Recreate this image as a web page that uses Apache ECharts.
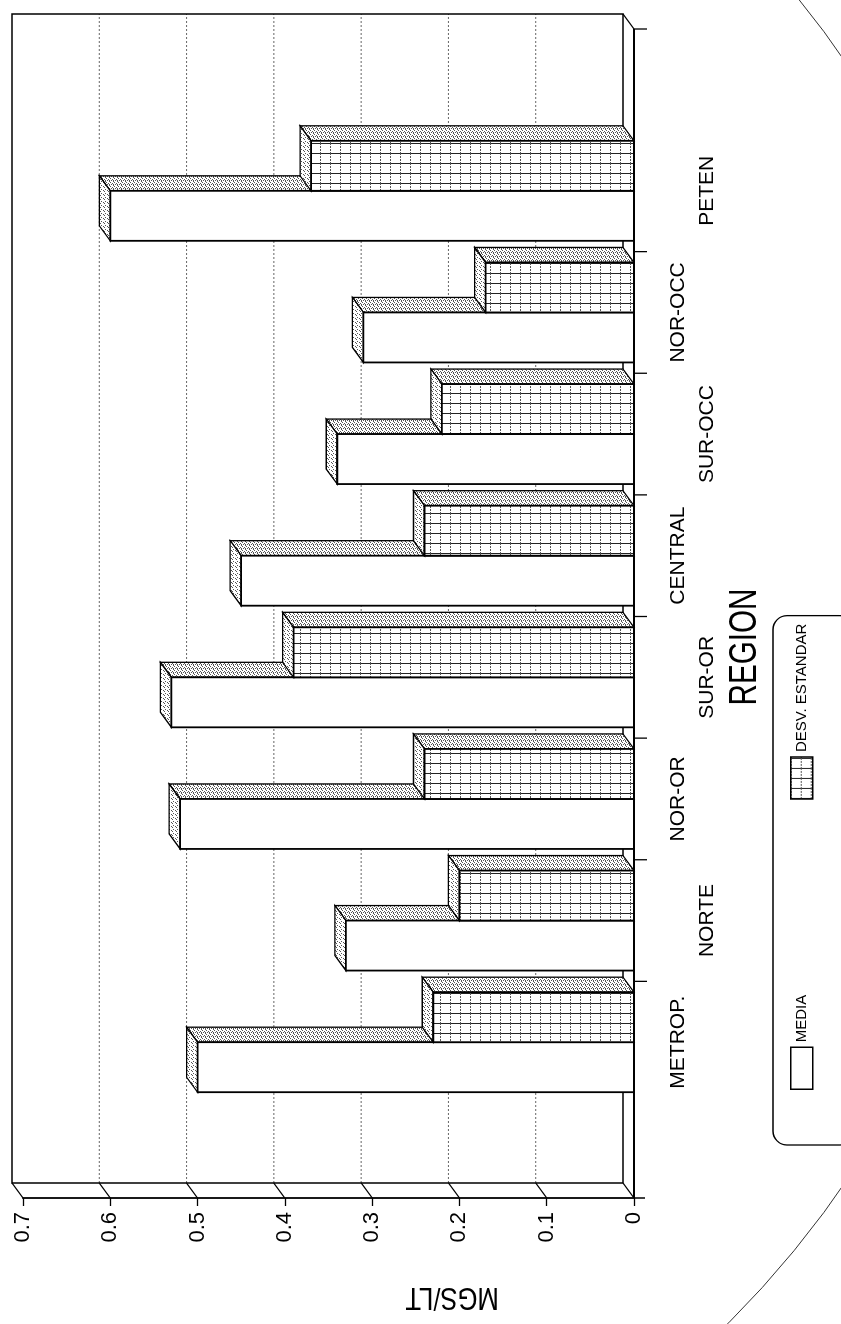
<!DOCTYPE html>
<html><head><meta charset="utf-8">
<script src="https://cdn.jsdelivr.net/npm/echarts@6/dist/echarts.min.js"></script>
<style>
html,body{margin:0;padding:0;background:#fff;overflow:hidden;width:841px;height:1324px;}
#chart{position:absolute;left:0;top:0;width:1324px;height:841px;transform-origin:0 0;transform:translate(0,1324px) rotate(-90deg);}
</style></head><body><div id="chart"></div>
<script>
// ---- data ----
const categories = ['METROP.', 'NORTE', 'NOR-OR', 'SUR-OR', 'CENTRAL', 'SUR-OCC', 'NOR-OCC', 'PETEN'];
const mediaValues = [0.50, 0.33, 0.52, 0.53, 0.45, 0.34, 0.31, 0.60];
const desvValues  = [0.23, 0.20, 0.24, 0.39, 0.24, 0.22, 0.17, 0.37];
const valueTicks = [0, 0.1, 0.2, 0.3, 0.4, 0.5, 0.6, 0.7];
const valueTickLabels = ['0', '0.1', '0.2', '0.3', '0.4', '0.5', '0.6', '0.7'];
const seriesNames = ['MEDIA', 'DESV. ESTANDAR'];
const axisTitleX = 'REGION';
const axisTitleY = 'MGS/LT';

// ---- style / layout ----
const FONT = '"Liberation Sans", Arial, Helvetica, sans-serif';
const DX = 15, DY = -11;          // 3D depth offset
const BW = 50;                    // bar face width
const AXIS_LEFT = 126, AXIS_RIGHT = 1295;

function makeCanvas(w, h, draw) {
  const c = document.createElement('canvas');
  c.width = w; c.height = h;
  draw(c.getContext('2d'));
  return c;
}
const gridCanvas = makeCanvas(10, 10, g => {
  g.fillStyle = '#fff'; g.fillRect(0, 0, 10, 10);
  g.strokeStyle = '#222'; g.lineWidth = 1;
  g.beginPath(); g.moveTo(0.5, 0); g.lineTo(0.5, 10); g.stroke();
  g.strokeStyle = '#555'; g.setLineDash([2, 1]);
  g.beginPath(); g.moveTo(0, 0.5); g.lineTo(10, 0.5); g.stroke();
});
// stipple textures (fixed dot layouts)
function stipple(dots) {
  return makeCanvas(4, 4, g => {
    g.fillStyle = '#fff'; g.fillRect(0, 0, 4, 4);
    g.fillStyle = '#555';
    dots.forEach(([x, y]) => g.fillRect(x, y, 1, 1));
  });
}
const sideCanvas = stipple([[0, 0], [2, 1], [1, 2], [3, 3], [3, 1]]);
const topCanvas = stipple([[0, 0], [2, 1], [1, 3]]);
const gridFill = { image: gridCanvas, repeat: 'repeat' };
const sideFill = { image: sideCanvas, repeat: 'repeat' };
const topFill = { image: topCanvas, repeat: 'repeat' };

const chart = echarts.init(document.getElementById('chart'), null, { renderer: 'canvas', width: 1324, height: 841 });

function renderFrame(params, api) {
  const y = v => api.coord([0, v])[1];
  const y0 = y(0), yTop = y(valueTicks[valueTicks.length - 1]);
  const L = AXIS_LEFT, R = AXIS_RIGHT;
  const band = api.size([1, 0])[0];
  const ch = [];
  const line = (x1, y1, x2, y2, st) => ch.push({ type: 'line', shape: { x1, y1, x2, y2 }, style: Object.assign({ stroke: '#000', lineWidth: 1.3 }, st || {}) });
  valueTicks.forEach(t => {
    if (t > 0 && t < valueTicks[valueTicks.length - 1]) line(L + DX, y(t) + DY, R + DX, y(t) + DY, { stroke: '#666', lineWidth: 1, lineDash: [2, 2] });
  });
  ch.push({ type: 'polyline', shape: { points: [[L + DX, y0 + DY], [L + DX, yTop + DY], [R + DX, yTop + DY], [R + DX, y0 + DY], [L + DX, y0 + DY]] }, style: { fill: null, stroke: '#000', lineWidth: 1.5 } });
  valueTicks.forEach(t => line(L, y(t), L + DX, y(t) + DY, { lineWidth: 1.2 }));
  line(R, y0, R + DX, y0 + DY, { lineWidth: 1.2 });
  line(L, y0, R, y0, { lineWidth: 1.8 });
  line(L, y0, L, y0 + 11, { lineWidth: 1.5 });
  for (let i = 0; i < categories.length - 1; i++) {
    const xb = api.coord([i, 0])[0] + band / 2;
    line(xb, y0, xb, y0 + 13, { lineWidth: 1.3 });
  }
  line(R, y0, R, y0 + 13, { lineWidth: 1.3 });
  return { type: 'group', children: ch };
}

function makeBar(left, frontFill) {
  return function (params, api) {
    const idx = api.value(0), val = api.value(1);
    const top = api.coord([idx, val]);
    const base = api.coord([idx, 0]);
    const xl = left ? top[0] - BW : top[0];
    const xr = xl + BW;
    const yt = top[1], yb = base[1];
    return {
      type: 'group', children: [
        { type: 'polygon', shape: { points: [[xr, yt], [xr + DX, yt + DY], [xr + DX, yb + DY], [xr, yb]] }, style: { fill: sideFill, stroke: '#000', lineWidth: 1.3 } },
        { type: 'polygon', shape: { points: [[xl, yt], [xr, yt], [xr + DX, yt + DY], [xl + DX, yt + DY]] }, style: { fill: topFill, stroke: '#000', lineWidth: 1.3 } },
        { type: 'rect', shape: { x: xl, y: yt, width: BW, height: yb - yt }, style: { fill: frontFill, stroke: '#000', lineWidth: 1.8 } }
      ]
    };
  };
}

const option = {
  animation: false,
  backgroundColor: '#fff',
  grid: { left: 221, right: 130, top: 23, bottom: 207, containLabel: false },
  legend: {
    left: 179, top: 773, orient: 'horizontal', selectedMode: false,
    padding: [17, 8, 40, 55], itemGap: 195, itemWidth: 42, itemHeight: 22,
    borderColor: '#000', borderWidth: 1.3, borderRadius: 14,
    textStyle: { fontSize: 15, fontFamily: FONT, color: '#000' },
    data: [
      { name: seriesNames[0], icon: 'rect', itemStyle: { color: '#fff', borderColor: '#000', borderWidth: 1.5 } },
      { name: seriesNames[1], icon: 'rect', itemStyle: { color: gridFill, borderColor: '#000', borderWidth: 1.5 } }
    ]
  },
  xAxis: {
    type: 'category', data: categories, boundaryGap: true,
    axisLine: { show: false }, axisTick: { show: false },
    axisLabel: {
      interval: 0, margin: 30, fontSize: 21, lineHeight: 29, fontFamily: FONT, color: '#000',
      formatter: (val, idx) => (idx % 2 ? '\n' + val : val)
    }
  },
  yAxis: {
    type: 'value', min: valueTicks[0], max: valueTicks[valueTicks.length - 1], interval: 0.1, offset: 95,
    axisLine: { show: true, lineStyle: { color: '#000', width: 1.8 } },
    axisTick: { show: true, length: 8, lineStyle: { color: '#000', width: 1.3 } },
    axisLabel: { margin: 14, fontSize: 22, fontFamily: FONT, color: '#000',
      formatter: v => valueTickLabels[Math.round(v * 10)] },
    splitLine: { show: false }
  },
  graphic: [
    { type: 'text', x: 677, y: 746, scaleX: 0.78, silent: true,
      style: { text: axisTitleX, font: '38px ' + FONT, fill: '#000', align: 'center', verticalAlign: 'middle' } },
    { type: 'text', x: 27, y: 452, rotation: Math.PI / 2, scaleX: 0.8, silent: true,
      style: { text: axisTitleY, font: '32px ' + FONT, fill: '#000', align: 'center', verticalAlign: 'middle' } },
    { type: 'circle', silent: true, shape: { cx: 702, cy: 28, r: 991 }, style: { fill: null, stroke: '#333', lineWidth: 1 } }
  ],
  series: [
    { type: 'custom', name: 'frame', silent: true, z: 1, renderItem: renderFrame, data: [[0, 0]], encode: { x: 0, y: 1 } },
    { type: 'custom', name: seriesNames[0], z: 2, renderItem: makeBar(true, '#fff'), data: mediaValues.map((v, i) => [i, v]), encode: { x: 0, y: 1 } },
    { type: 'custom', name: seriesNames[1], z: 2, renderItem: makeBar(false, gridFill), data: desvValues.map((v, i) => [i, v]), encode: { x: 0, y: 1 } }
  ]
};
chart.setOption(option);
</script></body></html>
